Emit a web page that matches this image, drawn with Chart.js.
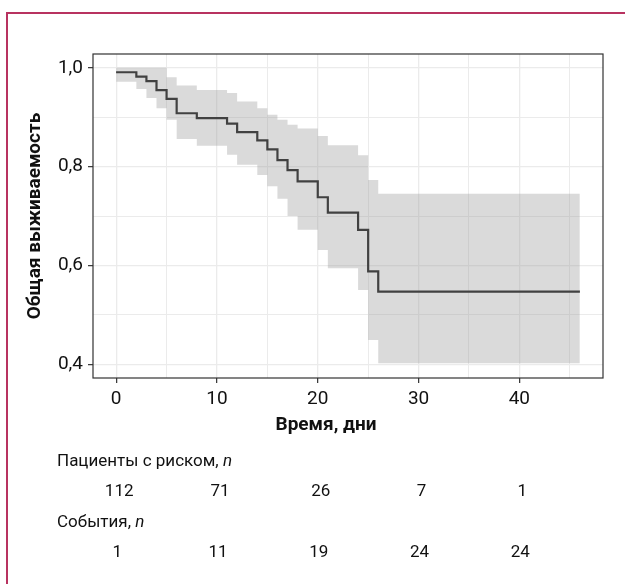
<!DOCTYPE html>
<html lang="ru">
<head>
  <meta charset="UTF-8" />
  <title>Общая выживаемость</title>
  <script src="https://cdn.jsdelivr.net/npm/chart.js"></script>
  <style>
    body {
      margin: 0;
      background-color: #fff;
    }
    canvas {
      display: block;
    }
  </style>
</head>
<body>

  <canvas id="kmChart" width="625" height="584"></canvas>

  <script>
    // Кривая Каплана–Мейера: моменты ступенек и доля выживших после них
    const times = [0, 2, 3, 4, 5, 6, 8, 11, 12, 14, 15, 16, 17, 18, 20, 21, 24, 25, 26, 46];
    const survival = [0.991, 0.982, 0.973, 0.955, 0.937, 0.908, 0.898, 0.887, 0.870, 0.853,
                      0.835, 0.813, 0.793, 0.770, 0.738, 0.707, 0.672, 0.588, 0.547, 0.547];
    // 95% доверительный интервал
    const upperCI = [1.000, 1.000, 1.000, 1.000, 0.981, 0.964, 0.955, 0.949, 0.932, 0.918,
                     0.905, 0.895, 0.885, 0.877, 0.862, 0.843, 0.823, 0.773, 0.745, 0.745];
    const lowerCI = [0.972, 0.957, 0.939, 0.918, 0.895, 0.856, 0.842, 0.824, 0.804, 0.783,
                     0.760, 0.735, 0.700, 0.672, 0.631, 0.594, 0.550, 0.449, 0.402, 0.402];

    // Деления осей
    const xTicks = [0, 5, 10, 15, 20, 25, 30, 35, 40, 45];
    const yTicks = [0.4, 0.5, 0.6, 0.7, 0.8, 0.9, 1.0];

    // Таблица под графиком
    const riskTimes = [0, 10, 20, 30, 40];
    const atRisk = [112, 71, 26, 7, 1];
    const events = [1, 11, 19, 24, 24];

    const FONT = "Roboto, 'Liberation Sans', sans-serif";

    const toPoints = arr => times.map((t, i) => ({ x: t, y: arr[i] }));
    const isMajorX = v => v % 10 === 0;
    const isMajorY = v => Math.round(v * 10) % 2 === 0;

    // Рамка панели, подписи осей и таблица числа пациентов
    const decorPlugin = {
      id: 'decor',
      afterDraw(chart) {
        const { ctx, chartArea: a, scales } = chart;
        ctx.save();

        // рамка панели
        ctx.strokeStyle = '#333333';
        ctx.lineWidth = 1.2;
        ctx.strokeRect(a.left, a.top, a.right - a.left, a.bottom - a.top);

        // рамка страницы
        ctx.strokeStyle = '#b83260';
        ctx.lineWidth = 2;
        ctx.strokeRect(7, 13, 700, 700);

        ctx.fillStyle = '#111';

        // подпись оси X
        ctx.font = `bold 19px ${FONT}`;
        ctx.textAlign = 'center';
        ctx.textBaseline = 'middle';
        ctx.fillText('Время, дни', 326, 425);

        // подпись оси Y
        ctx.save();
        ctx.translate(35, (a.top + a.bottom) / 2);
        ctx.rotate(-Math.PI / 2);
        ctx.fillText('Общая выживаемость', 0, 0);
        ctx.restore();

        // заголовки строк таблицы
        const rowTitle = (text, y) => {
          ctx.font = `17px ${FONT}`;
          ctx.textAlign = 'left';
          ctx.fillText(text, 57, y);
          const w = ctx.measureText(text).width;
          ctx.font = `italic 17px ${FONT}`;
          ctx.fillText('n', 57 + w, y);
        };
        rowTitle('Пациенты с риском, ', 462);
        rowTitle('События, ', 523);

        // значения таблицы
        ctx.font = `17px ${FONT}`;
        ctx.textAlign = 'center';
        riskTimes.forEach((t, i) => {
          const x = scales.x.getPixelForValue(t);
          ctx.fillText(String(atRisk[i]), x + 3, 492);
          ctx.fillText(String(events[i]), x + 1, 553);
        });

        ctx.restore();
      }
    };

    const ctx = document.getElementById('kmChart').getContext('2d');
    new Chart(ctx, {
      type: 'line',
      data: {
        datasets: [
          {
            label: 'Верхняя граница',
            data: toPoints(upperCI),
            stepped: true,
            borderWidth: 0,
            pointRadius: 0,
            fill: '+1',
            backgroundColor: 'rgba(153, 153, 153, 0.36)'
          },
          {
            label: 'Нижняя граница',
            data: toPoints(lowerCI),
            stepped: true,
            borderWidth: 0,
            pointRadius: 0,
            fill: false
          },
          {
            label: 'Выживаемость',
            data: toPoints(survival),
            stepped: true,
            borderColor: '#111111',
            borderWidth: 2.2,
            pointRadius: 0,
            fill: false
          }
        ]
      },
      options: {
        responsive: false,
        animation: false,
        layout: {
          padding: { left: 0, top: 54, right: 22, bottom: 176 }
        },
        plugins: {
          legend: { display: false },
          tooltip: { enabled: false }
        },
        scales: {
          x: {
            type: 'linear',
            min: -2.3,
            max: 48.3,
            afterBuildTicks: scale => { scale.ticks = xTicks.map(v => ({ value: v })); },
            afterFit: scale => { scale.height = 30; },
            border: { display: false },
            grid: {
              color: '#ebebeb',
              lineWidth: c => (c.tick && isMajorX(c.tick.value)) ? 1.3 : 1,
              tickColor: c => (c.tick && isMajorX(c.tick.value)) ? '#333' : 'rgba(0,0,0,0)',
              tickLength: 5,
              tickWidth: 1.2
            },
            ticks: {
              autoSkip: false,
              maxRotation: 0,
              padding: 5,
              color: '#111',
              font: { family: FONT, size: 19 },
              callback: v => isMajorX(v) ? String(v) : ''
            }
          },
          y: {
            min: 0.372,
            max: 1.028,
            afterBuildTicks: scale => { scale.ticks = yTicks.map(v => ({ value: v })); },
            afterFit: scale => { scale.width = 93; },
            border: { display: false },
            grid: {
              color: '#ebebeb',
              lineWidth: c => (c.tick && isMajorY(c.tick.value)) ? 1.3 : 1,
              tickColor: c => (c.tick && isMajorY(c.tick.value)) ? '#333' : 'rgba(0,0,0,0)',
              tickLength: 5,
              tickWidth: 1.2
            },
            ticks: {
              autoSkip: false,
              padding: 5,
              color: '#111',
              font: { family: FONT, size: 19 },
              callback: v => isMajorY(v) ? v.toFixed(1).replace('.', ',') : ''
            }
          }
        }
      },
      plugins: [decorPlugin]
    });
  </script>

</body>
</html>
